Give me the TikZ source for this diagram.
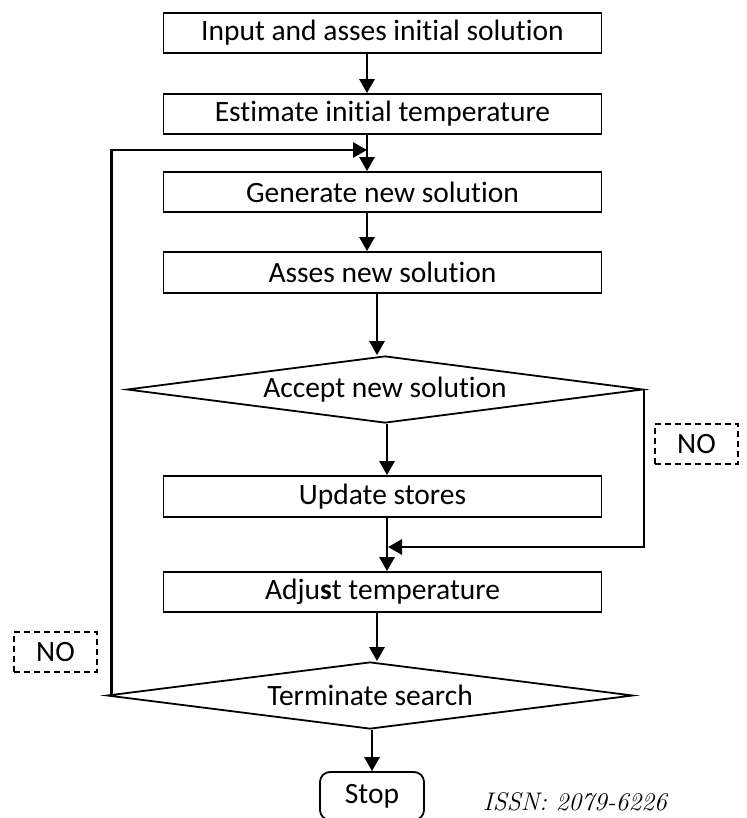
\documentclass[tikz,border=0pt]{standalone}
\usepackage{fontspec}
\newfontfamily\chartfont[Ligatures=NoCommon]{Carlito}
\usetikzlibrary{shapes.geometric,arrows.meta,calc}
\begin{document}
\begin{tikzpicture}[x=1pt,y=-1pt,
  txt/.style={font=\chartfont\fontsize{29.5}{33}\selectfont},
  box/.style={txt, draw, line width=1.8pt, minimum width=438pt, minimum height=40pt, inner sep=0pt},
  dec/.style={txt, draw, diamond, line width=1.8pt, inner sep=0pt, aspect=7.7},
  nobox/.style={txt, draw, dash pattern=on 6pt off 4pt, line width=1.8pt, minimum width=83pt, minimum height=40pt, inner sep=0pt},
  stopbox/.style={txt, draw, rounded corners=10pt, line width=1.8pt, minimum width=104pt, minimum height=48pt, inner sep=0pt},
  arr/.style={line width=2.8pt, -{Triangle[length=14pt,width=15pt]}}]
\useasboundingbox (0,0) rectangle (746,818);
\clip (0,0) rectangle (746,818);

\node[box] (b1) at (382.5,33) {Input and asses initial solution};
\node[box] (b2) at (382.5,114) {Estimate initial temperature};
\node[box] (b3) at (382.5,192) {Generate new solution};
\node[box, minimum height=41pt] (b4) at (382.5,272.5) {Asses new solution};
\node[dec, minimum width=516pt, minimum height=67pt] (d1) at (385,389.5) {Accept new solution};
\node[box, minimum height=41pt] (b5) at (382.5,496.5) {Update stores};
\node[box] (b6) at (382.5,592) {Adju\textbf{s}t temperature};
\node[dec, minimum width=526pt, minimum height=67pt] (d2) at (370,695.5) {Terminate search};
\node[stopbox] (stop) at (372,796) {Stop};
\node[nobox] (no1) at (696.5,444) {NO};
\node[nobox] (no2) at (55.5,652) {NO};
\node[font=\itshape\fontsize{25.5}{28}\selectfont] (issn) at (575,802) {ISSN: 2079-6226};

\coordinate (j1) at (367,150);
\coordinate (j2) at (388,547);

\draw[arr] ([xshift=-15.5pt]b1.south) -- ([xshift=-15.5pt]b2.north);
\draw[arr] ([xshift=-15.5pt]b2.south) -- ([xshift=-15.5pt]b3.north);
\draw[arr] ([xshift=-15.5pt]b3.south) -- ([xshift=-15.5pt]b4.north);
\draw[arr] ([xshift=-5.5pt]b4.south) -- ([xshift=-5.5pt]b4.south |- d1.north);
\draw[arr] ([xshift=4.5pt]b5.north |- d1.south) -- ([xshift=4.5pt]b5.north);
\draw[arr] ([xshift=4.5pt]b5.south) -- ([xshift=4.5pt]b6.north);
\draw[arr] (d1.east) -- (d1.east |- j2) -- (j2);
\draw[arr] ([xshift=-5.5pt]b6.south) -- ([xshift=-5.5pt]b6.south |- d2.north);
\draw[arr] (stop.north |- d2.south) -- (stop.north);
\draw[arr] ([xshift=5pt]d2.west) |- (j1);
\end{tikzpicture}
\end{document}
